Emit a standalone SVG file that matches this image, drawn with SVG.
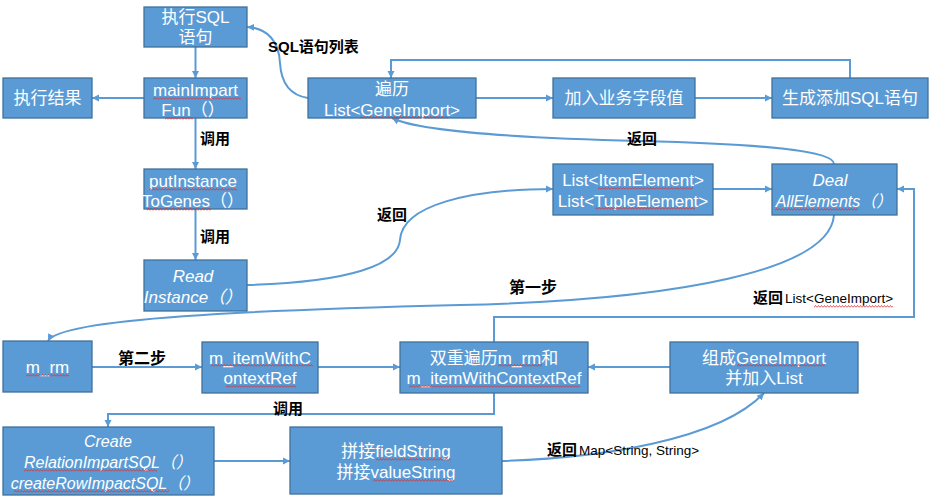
<svg xmlns="http://www.w3.org/2000/svg" width="934" height="504" viewBox="0 0 934 504">
<style>
.box{fill:#5B9BD5;stroke:#41719C;stroke-width:1.3}
.t{fill:#fff;font-family:"Liberation Sans","Noto Sans CJK SC",sans-serif;font-size:17px;text-anchor:middle}
.it{font-style:italic}
.lb{fill:#000;font-family:"Liberation Sans","Noto Sans CJK SC",sans-serif;font-size:15px;font-weight:bold}
.ls{fill:#000;font-family:"Liberation Sans","Noto Sans CJK SC",sans-serif;font-size:13.5px}
.sq{fill:url(#sq)}
</style>
<defs>
<marker id="ah" markerWidth="8" markerHeight="8" refX="7" refY="4" orient="auto" markerUnits="userSpaceOnUse"><path d="M0,0.5 L7,4 L0,7.5 z" fill="#5B9BD5"/></marker>
<pattern id="sq" width="3" height="3" patternUnits="userSpaceOnUse"><path d="M0,2.5 L1.5,0.5 L3,2.5" fill="none" stroke="#E03030" stroke-width="0.8"/></pattern>
</defs>
<rect width="934" height="504" fill="#fff"/>

<g id="connectors" fill="none" stroke="#5B9BD5" stroke-width="2" marker-end="url(#ah)">
<path d="M195.5,47 V78"/>
<path d="M144,98 H92"/>
<path d="M195.5,118 V169"/>
<path d="M195.5,209 V260"/>
<path d="M247,285 C350,282 398,265 400,240 C402,205 470,189 553,189"/>
<path d="M308,98 C288,95 281,80 280,63 C279,42 268,28 247,27"/>
<path d="M476,98 H553"/>
<path d="M695,98 H772"/>
<path d="M850,78 V60 H391 V78"/>
<path d="M834,164 C834,150 760,144 640,141 C520,138 420,132 392,118"/>
<path d="M713,189 H772"/>
<path d="M834,215 C830,270 680,300 460,305 C260,310 60,318 48,341"/>
<path d="M92,367 H202"/>
<path d="M318,367 H400"/>
<path d="M670,367 H588"/>
<path d="M494,342 V317 H914 V189 H897"/>
<path d="M494,393 V414 H108 V427"/>
<path d="M214,461 H290"/>
<path d="M502,461 C600,458 720,440 764,393"/>
</g>

<g id="n1"><rect class="box" x="144" y="7" width="103" height="40"/><text class="t" x="195.5" y="23">执行SQL</text><text class="t" x="195.5" y="43">语句</text></g>
<g id="n2"><rect class="box" x="144" y="78" width="103" height="40"/><text class="t" x="195.5" y="96">mainImpart</text><text class="t" x="193" y="116">Fun（）</text></g>
<g id="n3"><rect class="box" x="3" y="78" width="89" height="40"/><text class="t" x="47.5" y="104">执行结果</text></g>
<g id="n4"><rect class="box" x="144" y="169" width="103" height="40"/><text class="t" x="193" y="187">putInstance</text><text class="t" x="193" y="207">ToGenes（）</text></g>
<g id="n5"><rect class="box" x="144" y="260" width="103" height="51"/><text class="t it" x="193" y="282">Read</text><text class="t it" x="193" y="303">Instance（）</text></g>
<g id="n6"><rect class="box" x="308" y="78" width="168" height="40"/><text class="t" x="392" y="95">遍历</text><text class="t" x="392" y="116">List&lt;GeneImport&gt;</text></g>
<g id="n7"><rect class="box" x="553" y="78" width="142" height="40"/><text class="t" x="624" y="104">加入业务字段值</text></g>
<g id="n8"><rect class="box" x="772" y="78" width="156" height="40"/><text class="t" x="850" y="104">生成添加SQL语句</text></g>
<g id="n9"><rect class="box" x="553" y="164" width="160" height="51"/><text class="t" x="633" y="186">List&lt;ItemElement&gt;</text><text class="t" x="633" y="207">List&lt;TupleElement&gt;</text></g>
<g id="n10"><rect class="box" x="772" y="164" width="125" height="51"/><text class="t it" x="830" y="186">Deal</text><text class="t it" x="834" y="207" style="font-size:16px">AllElements（）</text></g>
<g id="n11"><rect class="box" x="3" y="341" width="89" height="51"/><text class="t" x="47.5" y="373">m_rm</text></g>
<g id="n12"><rect class="box" x="202" y="342" width="116" height="51"/><text class="t" x="260" y="364">m_itemWithC</text><text class="t" x="260" y="384">ontextRef</text></g>
<g id="n13"><rect class="box" x="400" y="342" width="188" height="51"/><text class="t" x="494" y="364">双重遍历m_rm和</text><text class="t" x="494" y="384">m_itemWithContextRef</text></g>
<g id="n14"><rect class="box" x="670" y="342" width="188" height="51"/><text class="t" x="764" y="364">组成GeneImport</text><text class="t" x="764" y="384">并加入List</text></g>
<g id="n15"><rect class="box" x="3" y="427" width="211" height="68"/><text class="t it" x="108" y="447" style="font-size:16px">Create</text><text class="t it" x="108" y="468" style="font-size:16px">RelationImpartSQL（）</text><text class="t it" x="105" y="489" style="font-size:16px">createRowImpactSQL（）</text></g>
<g id="n16"><rect class="box" x="290" y="427" width="212" height="67"/><text class="t" x="396" y="457">拼接fieldString</text><text class="t" x="396" y="478">拼接valueString</text></g>

<g id="labels">
<text class="lb" x="268" y="52">SQL语句列表</text>
<text class="lb" x="200" y="144">调用</text>
<text class="lb" x="200" y="242">调用</text>
<text class="lb" x="377" y="220">返回</text>
<text class="lb" x="627" y="144">返回</text>
<text class="lb" x="509" y="293" style="font-size:16px">第一步</text>
<text class="lb" x="753" y="303">返回</text><text class="ls" x="785" y="303">List&lt;GeneImport&gt;</text>
<text class="lb" x="118" y="364" style="font-size:16px">第二步</text>
<text class="lb" x="273" y="414">调用</text>
<text class="lb" x="547" y="455">返回</text><text class="ls" x="579" y="455">Map&lt;String, String&gt;</text>
</g>

<g id="spellmarks">
<rect class="sq" transform="translate(153,97)" width="88" height="3"/>
<rect class="sq" transform="translate(165,117)" width="28" height="3"/>
<rect class="sq" transform="translate(149,188)" width="88" height="3"/>
<rect class="sq" transform="translate(147,208)" width="64" height="3"/>
<rect class="sq" transform="translate(360,116)" width="88" height="3"/>
<rect class="sq" transform="translate(598,187)" width="95" height="3"/>
<rect class="sq" transform="translate(595,207)" width="100" height="3"/>
<rect class="sq" transform="translate(775,208)" width="83" height="3"/>
<rect class="sq" transform="translate(26,374)" width="43" height="3"/>
<rect class="sq" transform="translate(211,364)" width="102" height="3"/>
<rect class="sq" transform="translate(226,385)" width="70" height="3"/>
<rect class="sq" transform="translate(498,364)" width="44" height="3"/>
<rect class="sq" transform="translate(409,385)" width="171" height="3"/>
<rect class="sq" transform="translate(737,364)" width="88" height="3"/>
<rect class="sq" transform="translate(814,305)" width="79" height="3"/>
<rect class="sq" transform="translate(24,469)" width="133" height="3"/>
<rect class="sq" transform="translate(14,490)" width="155" height="3"/>
<rect class="sq" transform="translate(376,458)" width="75" height="3"/>
<rect class="sq" transform="translate(373,479)" width="81" height="3"/>
</g>
</svg>
